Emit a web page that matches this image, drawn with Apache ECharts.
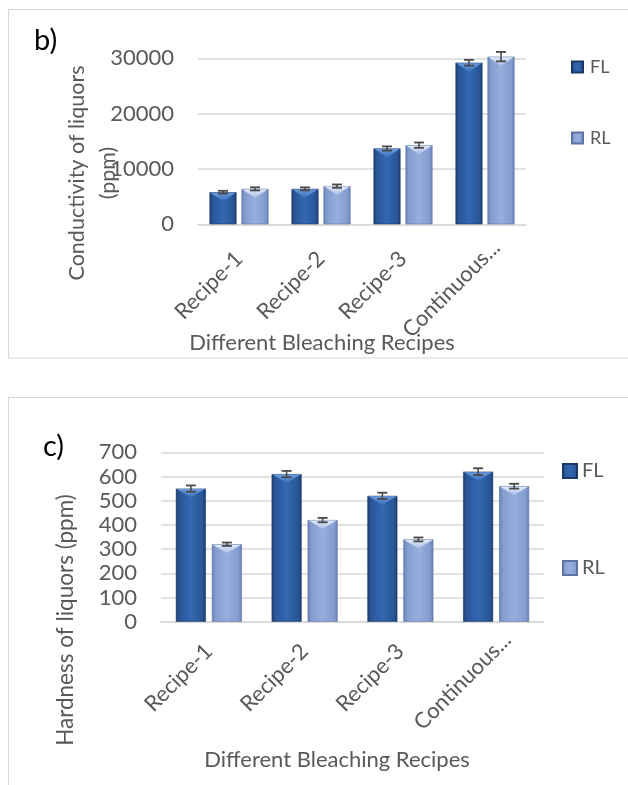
<!DOCTYPE html>
<html>
<head>
<meta charset="utf-8">
<script src="https://cdn.jsdelivr.net/npm/echarts@6/dist/echarts.min.js"></script>
<style>
html,body{margin:0;padding:0;background:#fff;}
#chart{width:628px;height:785px;}
</style>
</head>
<body>
<div id="chart"></div>
<script>
// ---- data ----
var categories = ['Recipe-1', 'Recipe-2', 'Recipe-3', 'Continuous...'];
var seriesNames = ['FL', 'RL'];
// panel b: conductivity (ppm)
var condFL = [5800, 6400, 13700, 29200];
var condRL = [6400, 6900, 14300, 30300];
var condFLErr = [250, 270, 380, 520];
var condRLErr = [280, 300, 480, 850];
var condTicks = [0, 10000, 20000, 30000];
// panel c: hardness (ppm)
var hardFL = [550, 610, 520, 620];
var hardRL = [320, 420, 340, 560];
var hardFLErr = [13, 13, 13, 14];
var hardRLErr = [7, 9, 8, 10];
var hardTicks = [0, 100, 200, 300, 400, 500, 600, 700];

// ---- style ----
var FONT = 'Lato';
var TXT = '#595959';
var GRIDC = '#d9d9d9';

function flFill() {
  return new echarts.graphic.LinearGradient(0, 0, 1, 0, [
    {offset: 0, color: '#1b3e72'},
    {offset: 0.12, color: '#2a5696'},
    {offset: 0.5, color: '#3168b2'},
    {offset: 0.88, color: '#2a5696'},
    {offset: 1, color: '#1b3e72'}
  ]);
}
function rlFill() {
  return new echarts.graphic.LinearGradient(0, 0, 1, 0, [
    {offset: 0, color: '#667eb2'},
    {offset: 0.12, color: '#849dd0'},
    {offset: 0.5, color: '#97aedd'},
    {offset: 0.88, color: '#849dd0'},
    {offset: 1, color: '#667eb2'}
  ]);
}
var capColors = {FL: ['#6b9be0', '#3a6fb8'], RL: ['#e3ecfb', '#a9bde6']};

var panels = [
  {ticks: condTicks, barW: 27, gap: 5, margin: 31, fs: 22},
  {ticks: hardTicks, barW: 30, gap: 6, margin: 26, fs: 22}
];

function makeOverlay(gi, name, vals, errs, sign) {
  var p = panels[gi];
  var off = sign * (p.barW + p.gap) / 2;
  var w = p.barW;
  var dataArr = vals.map(function (v, i) { return [i, v, errs[i]]; });
  return {
    type: 'custom',
    name: name + ' (error)',
    xAxisIndex: gi, yAxisIndex: gi,
    z: 5,
    silent: true,
    clip: false,
    data: dataArr,
    renderItem: function (params, api) {
      var c = api.coord([api.value(0), api.value(1)]);
      var hi = api.coord([api.value(0), api.value(1) + api.value(2)]);
      var lo = api.coord([api.value(0), api.value(1) - api.value(2)]);
      var x = c[0] + off;
      var top = c[1];
      var chevH = Math.min(9, Math.max(3, (api.coord([api.value(0), 0])[1] - top) * 0.5));
      var cc = capColors[name];
      return {
        type: 'group',
        children: [
          {type: 'polygon',
           shape: {points: [[x - w / 2 + 1, top + 0.5], [x + w / 2 - 1, top + 0.5], [x, top + chevH]]},
           style: {fill: new echarts.graphic.LinearGradient(0, 0, 0, 1, [
             {offset: 0, color: cc[0]}, {offset: 1, color: cc[1]}])}},
          {type: 'line', shape: {x1: x, y1: hi[1], x2: x, y2: lo[1]},
           style: {stroke: '#4a4a4a', lineWidth: 1.6}},
          {type: 'line', shape: {x1: x - 5, y1: hi[1], x2: x + 5, y2: hi[1]},
           style: {stroke: '#4a4a4a', lineWidth: 1.8}},
          {type: 'line', shape: {x1: x - 5, y1: lo[1], x2: x + 5, y2: lo[1]},
           style: {stroke: '#4a4a4a', lineWidth: 1.8}}
        ]
      };
    }
  };
}

function barSeries(gi, name, vals) {
  var p = panels[gi];
  return {
    type: 'bar',
    name: name,
    xAxisIndex: gi, yAxisIndex: gi,
    data: vals,
    barWidth: p.barW,
    barGap: (p.gap / p.barW * 100).toFixed(1) + '%',
    clip: false,
    itemStyle: {color: name === 'FL' ? flFill() : rlFill(),
                borderColor: name === 'FL' ? '#1a3966' : '#5d73a6', borderWidth: 0.6},
    emphasis: {disabled: true}
  };
}

var grids = [
  {left: 198, top: 58.3, width: 328, height: 166},
  {left: 161, top: 452.3, width: 383, height: 169.4}
];

function xAxisFor(gi) {
  var p = panels[gi];
  var catData = categories.map(function (c, i) {
    // Excel's truncated last label sits further along its baseline
    return i === categories.length - 1
      ? {value: c, textStyle: {padding: [0, -16, 0, 0]}}
      : c;
  });
  return {
    type: 'category', gridIndex: gi, data: catData,
    axisTick: {show: false},
    axisLine: {lineStyle: {color: GRIDC, width: 1.6}},
    axisLabel: {rotate: 45, margin: p.margin, color: TXT, fontFamily: FONT, fontSize: p.fs,
                interval: 0}
  };
}
function yAxisFor(gi) {
  var t = panels[gi].ticks;
  return {
    type: 'value', gridIndex: gi, min: t[0], max: t[t.length - 1],
    interval: t[1] - t[0],
    axisLine: {show: false}, axisTick: {show: false},
    splitLine: {lineStyle: {color: GRIDC, width: 1.6}},
    axisLabel: {margin: 24, color: TXT, fontFamily: FONT, fontSize: 22,
                formatter: function (v) { return String(v); }}
  };
}

function legendFor(name, left, top, size, fs, pad) {
  return {
    data: [name], left: left, top: top, orient: 'vertical',
    itemWidth: size, itemHeight: size, icon: 'rect', selectedMode: false,
    textStyle: {color: TXT, fontFamily: FONT, fontSize: fs, padding: [0, 0, 0, pad]}
  };
}

var option = {
  backgroundColor: '#ffffff',
  animation: false,
  grid: grids,
  xAxis: [xAxisFor(0), xAxisFor(1)],
  yAxis: [yAxisFor(0), yAxisFor(1)],
  legend: [
    legendFor('FL', 566, 53, 11, 18, 2),
    legendFor('RL', 566, 124, 11, 18, 2),
    legendFor('FL', 557, 456, 14, 20, 0),
    legendFor('RL', 557, 553, 14, 20, 0)
  ],
  series: [
    barSeries(0, 'FL', condFL),
    barSeries(0, 'RL', condRL),
    makeOverlay(0, 'FL', condFL, condFLErr, -1),
    makeOverlay(0, 'RL', condRL, condRLErr, 1),
    barSeries(1, 'FL', hardFL),
    barSeries(1, 'RL', hardRL),
    makeOverlay(1, 'FL', hardFL, hardFLErr, -1),
    makeOverlay(1, 'RL', hardRL, hardRLErr, 1)
  ],
  graphic: [
    {type: 'rect', silent: true, z: -10, shape: {x: 8.5, y: 9.5, width: 700, height: 348.5},
     style: {fill: 'none', stroke: GRIDC, lineWidth: 1.2}},
    {type: 'rect', silent: true, z: -10, shape: {x: 8.5, y: 397.5, width: 700, height: 420},
     style: {fill: 'none', stroke: GRIDC, lineWidth: 1.2}},
    {type: 'text', silent: true, x: 34, y: 41,
     style: {text: 'b)', fill: '#000', font: '29px Lato', textAlign: 'left', textVerticalAlign: 'middle'}},
    {type: 'text', silent: true, x: 43, y: 447,
     style: {text: 'c)', fill: '#000', font: '29px Lato', textAlign: 'left', textVerticalAlign: 'middle'}},
    {type: 'text', silent: true, x: 93, y: 173, rotation: Math.PI / 2,
     style: {text: 'Conductivity of liquors\n(ppm)', fill: TXT, font: '21.5px Lato', lineHeight: 31,
             textAlign: 'center', textVerticalAlign: 'middle'}},
    {type: 'text', silent: true, x: 66, y: 620, rotation: Math.PI / 2,
     style: {text: 'Hardness of liquors (ppm)', fill: TXT, font: '22.5px Lato',
             textAlign: 'center', textVerticalAlign: 'middle'}},
    {type: 'text', silent: true, x: 322, y: 343,
     style: {text: 'Different Bleaching Recipes', fill: TXT, font: '22px Lato',
             textAlign: 'center', textVerticalAlign: 'middle'}},
    {type: 'text', silent: true, x: 337, y: 760,
     style: {text: 'Different Bleaching Recipes', fill: TXT, font: '22px Lato',
             textAlign: 'center', textVerticalAlign: 'middle'}}
  ]
};

var chart = echarts.init(document.getElementById('chart'), null, {renderer: 'canvas'});
chart.setOption(option);
</script>
</body>
</html>
